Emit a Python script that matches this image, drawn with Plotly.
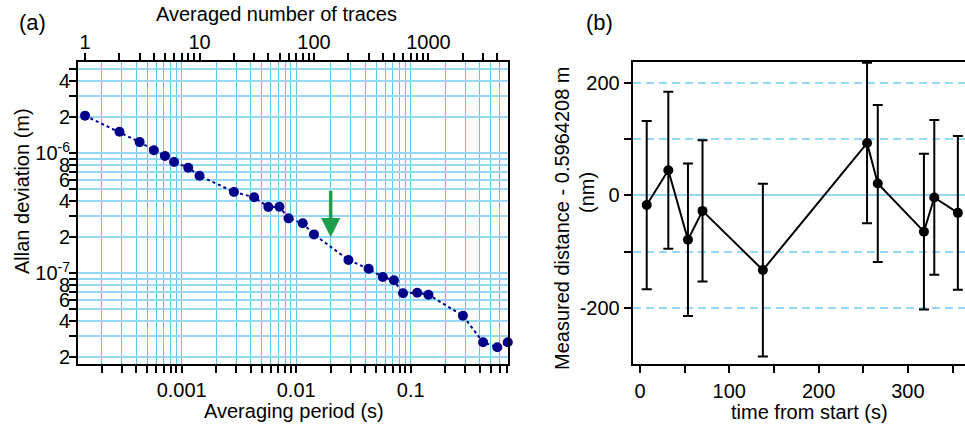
import math
import plotly.graph_objects as go

# ---------------- data ----------------
# (a) Allan deviation
avg_period_s = [1.43e-4, 2.86e-4, 4.29e-4, 5.71e-4, 7.14e-4, 8.57e-4, 1.14e-3, 1.43e-3,
                2.86e-3, 4.29e-3, 5.71e-3, 7.14e-3, 8.57e-3, 1.14e-2, 1.43e-2, 2.86e-2,
                4.29e-2, 5.71e-2, 7.14e-2, 8.57e-2, 0.114, 0.143, 0.286, 0.429, 0.571, 0.705]
n_traces = [1, 2, 3, 4, 5, 6, 8, 10, 20, 30, 40, 50, 60, 80, 100, 200, 300, 400, 500,
            600, 800, 1000, 2000, 3000, 4000, 5000]
allan_dev_m = [2.06e-6, 1.51e-6, 1.24e-6, 1.06e-6, 9.5e-7, 8.46e-7, 7.59e-7, 6.5e-7,
               4.76e-7, 4.3e-7, 3.57e-7, 3.58e-7, 2.87e-7, 2.61e-7, 2.11e-7, 1.29e-7,
               1.09e-7, 9.31e-8, 8.75e-8, 6.81e-8, 6.89e-8, 6.63e-8, 4.43e-8, 2.66e-8,
               2.42e-8, 2.66e-8]
arrow_period_s = 0.02
arrow_tip_m = 2.0e-7

# (b) measured distance
time_s = [7.5, 31.7, 53.7, 70.0, 137.6, 254.3, 266.3, 318.0, 329.6, 356.0]
dist_nm = [-17, 45, -79, -27.5, -133, 93.5, 21.5, -64.5, -3.5, -31]
dist_err_nm = [150, 140, 136, 126, 154, 143, 140, 139, 138, 137]

bottom_major = {1e-3: "0.001", 1e-2: "0.01", 1e-1: "0.1"}
top_major = {1: "1", 10: "10", 100: "100", 1000: "1000"}
y_major = {1e-6: "10<sup>-6</sup>", 1e-7: "10<sup>-7</sup>"}
right_x_ticks = [0, 50, 100, 150, 200, 250, 300, 350]
right_y_ticks = [-200, -100, 0, 100, 200]

# ---------------- helpers ----------------
W, H = 965, 427
def px(x):
    return x / W
def py(y):
    return 1 - y / H

def log_ticks(lo_exp, hi_exp, labels, label_mults=()):
    vals, texts = [], []
    for e in range(lo_exp, hi_exp + 1):
        for m in range(1, 10):
            v = m * 10 ** e
            v = float(f"{v:.6g}")
            vals.append(v)
            if m == 1 and v in labels:
                texts.append(labels[v])
            elif m in label_mults:
                texts.append(str(m))
            else:
                texts.append("")
    return vals, texts

FONT = "Liberation Sans, Arial, sans-serif"
GRID_V = "#5CC6F2"
GRID_H = "#97D8F6"
NAVY = "#00008A"

bx_vals, bx_text = log_ticks(-4, 0, bottom_major)
tx_vals, tx_text = log_ticks(0, 4, top_major)
ly_vals, ly_text = log_ticks(-9, -5, y_major, label_mults=(2, 4, 6, 8))

fig = go.Figure()

# (a) main series
fig.add_trace(go.Scatter(
    x=avg_period_s, y=allan_dev_m, mode="lines+markers",
    line=dict(color=NAVY, width=2, dash="3px,3px"),
    marker=dict(color=NAVY, size=10),
    cliponaxis=False, xaxis="x", yaxis="y", showlegend=False))
# invisible companion on top axis (number of traces)
fig.add_trace(go.Scatter(
    x=n_traces, y=allan_dev_m, mode="markers", marker=dict(opacity=0),
    hoverinfo="skip", xaxis="x3", yaxis="y", showlegend=False))

# (b) series
fig.add_trace(go.Scatter(
    x=time_s, y=dist_nm, mode="lines+markers",
    line=dict(color="black", width=2),
    marker=dict(color="black", size=10),
    error_y=dict(type="data", array=dist_err_nm, visible=True,
                 color="black", thickness=2, width=5),
    cliponaxis=False, xaxis="x2", yaxis="y2", showlegend=False))

axis_common = dict(showline=True, linecolor="black", linewidth=2,
                   ticks="outside", ticklen=7, tickwidth=1.5, tickcolor="black",
                   tickfont=dict(family=FONT, size=20, color="black"),
                   automargin=False)

xl_lo, xl_hi = -3.906, -0.150
tau0_log = math.log10(avg_period_s[0] / n_traces[0])

fig.update_layout(
    template="none",
    width=W, height=H,
    margin=dict(l=0, r=0, t=0, b=0, autoexpand=False),
    paper_bgcolor="white", plot_bgcolor="white",
    font=dict(family=FONT, size=20, color="black"),
    xaxis=dict(type="log", range=[xl_lo, xl_hi], domain=[px(78), px(508)],
               anchor="y", tickmode="array", tickvals=bx_vals, ticktext=bx_text,
               showgrid=True, gridcolor=GRID_V, gridwidth=1.2, mirror=True,
               zeroline=False, ticklabelstandoff=0, **axis_common),
    xaxis3=dict(type="log", range=[xl_lo - tau0_log, xl_hi - tau0_log],
                overlaying="x", side="top", anchor="y",
                tickmode="array", tickvals=tx_vals, ticktext=tx_text,
                showgrid=False, zeroline=False, ticklabelstandoff=-4, **axis_common),
    yaxis=dict(type="log", range=[-7.756, -5.239], domain=[py(364), py(62)],
               anchor="x", tickmode="array", tickvals=ly_vals, ticktext=ly_text,
               showgrid=True, gridcolor=GRID_H, gridwidth=1.6, mirror=True,
               zeroline=False, ticklabelstandoff=-5, **axis_common),
    xaxis2=dict(range=[-8.2, 364.0], domain=[px(632.7), 1.0], anchor="y2",
                tickmode="array", tickvals=right_x_ticks,
                ticktext=[str(v) if v % 100 == 0 else "" for v in right_x_ticks],
                showgrid=False, zeroline=False, mirror=True, ticklabelstandoff=1,
                **axis_common),
    yaxis2=dict(range=[-301, 238], domain=[py(364.3), py(62)], anchor="x2",
                tickmode="array", tickvals=right_y_ticks,
                ticktext=[str(v) if v % 200 == 0 else "" for v in right_y_ticks],
                showgrid=True, gridcolor=GRID_H, gridwidth=1.5, griddash="8px,5px",
                ticklabelstandoff=0, zeroline=True, zerolinecolor=GRID_H,
                zerolinewidth=2, **axis_common),
)

def label(text, x, y, size=20, angle=0):
    fig.add_annotation(text=text, x=px(x), y=py(y), xref="paper", yref="paper",
                       showarrow=False, textangle=angle, xanchor="center",
                       yanchor="middle", font=dict(family=FONT, size=size, color="black"))

label("(a)", 32, 22, size=22)
label("(b)", 599, 23, size=22)
label("Averaged number of traces", 276, 14)
label("Averaging period (s)", 294, 411)
label("time from start (s)", 809, 412)
label("Allan deviation (m)", 22, 191, angle=-90)
label("Measured distance - 0.5964208 m", 562, 218, angle=-90)
label("(nm)", 587, 193, angle=-90)

# green arrow
fig.add_annotation(x=math.log10(arrow_period_s), y=math.log10(arrow_tip_m),
                   xref="x", yref="y", ax=0, ay=-48, axref="pixel", ayref="pixel",
                   text="", showarrow=True, arrowhead=2, arrowsize=1.1,
                   arrowwidth=3.5, arrowcolor="#1E9E4B", standoff=0)

fig.write_html("out.html", config={"displayModeBar": False},
               post_script="document.body.style.margin='0';document.body.style.padding='0';")
